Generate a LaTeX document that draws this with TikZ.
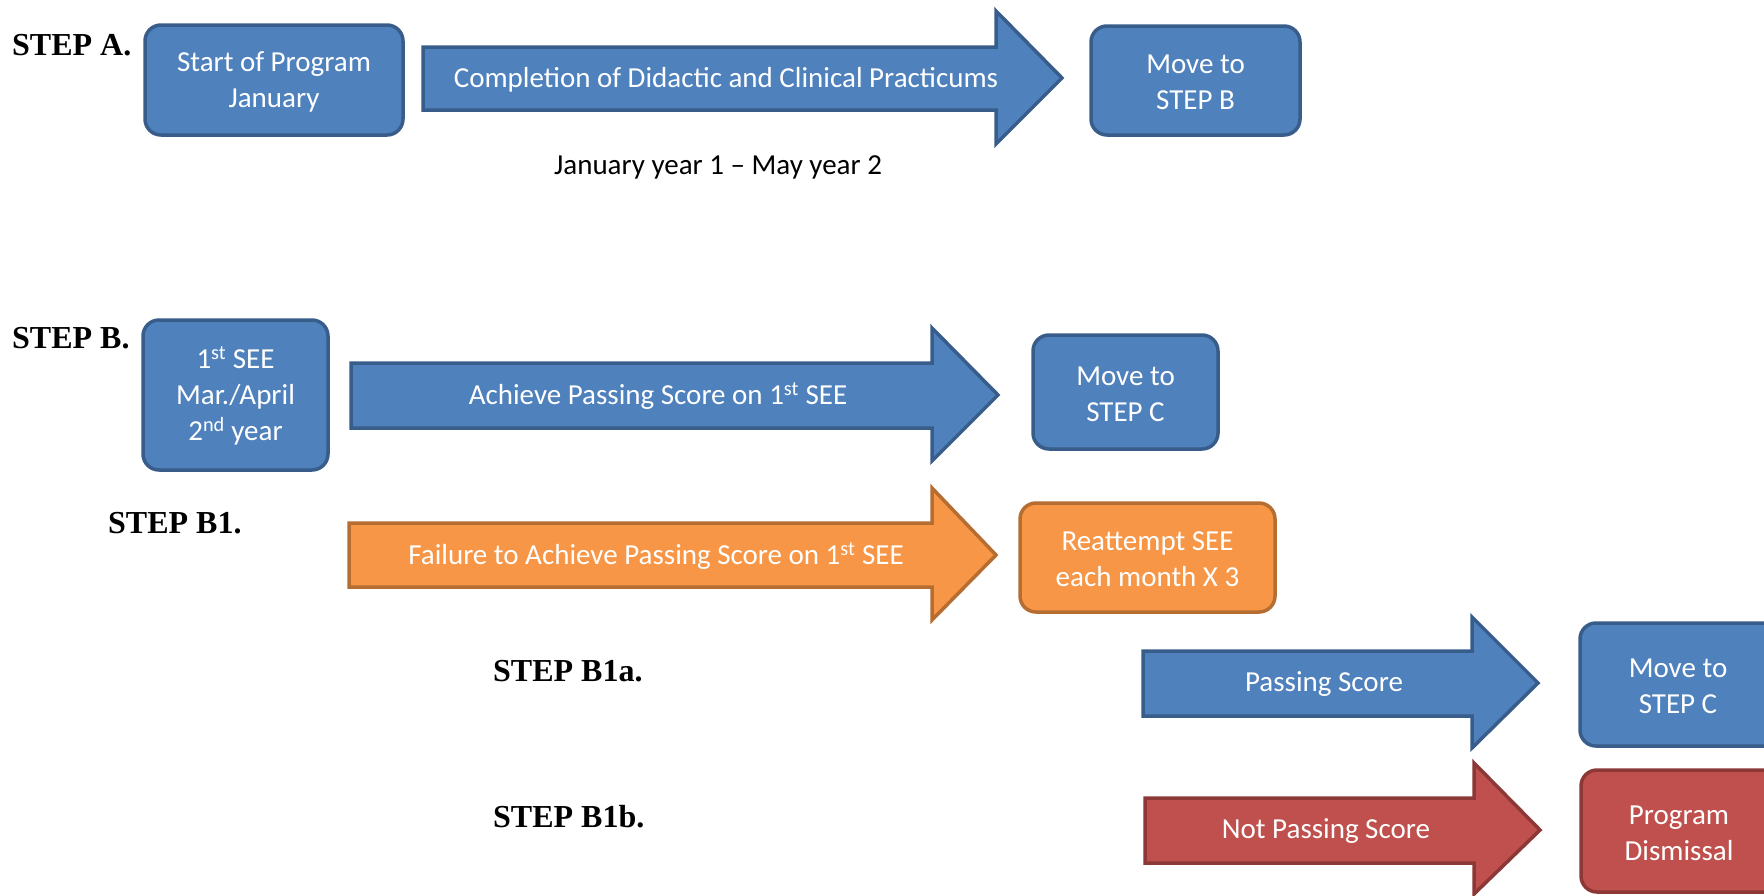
\documentclass[tikz,border=0pt]{standalone}
\usepackage{fontspec}
\setmainfont{Carlito}
\newfontfamily\stepfont{Liberation Serif}
\definecolor{bluefill}{HTML}{4F81BD}
\definecolor{blueline}{HTML}{385D8A}
\definecolor{orangefill}{HTML}{F79646}
\definecolor{orangeline}{HTML}{B66D31}
\definecolor{redfill}{HTML}{C0504D}
\definecolor{redline}{HTML}{8C3836}
\tikzset{
  boxbase/.style={rectangle, rounded corners=16pt, line width=3.5pt, text=white, align=center,
    font=\fontsize{29}{36}\selectfont, inner sep=0pt},
  bluebox/.style={boxbase, fill=bluefill, draw=blueline},
  orangebox/.style={boxbase, fill=orangefill, draw=orangeline},
  redbox/.style={boxbase, fill=redfill, draw=redline},
  bluearrow/.style={fill=bluefill, draw=blueline, line width=3.5pt, line join=miter},
  orangearrow/.style={fill=orangefill, draw=orangeline, line width=3.5pt, line join=miter},
  redarrow/.style={fill=redfill, draw=redline, line width=3.5pt, line join=miter},
  arrowtext/.style={text=white, font=\fontsize{29}{36}\selectfont, inner sep=0pt, anchor=center},
  boxtext/.style={text=white, font=\fontsize{29}{36}\selectfont, inner sep=0pt, align=center, anchor=center},
  steplabel/.style={font=\stepfont\bfseries\fontsize{32}{36}\selectfont, anchor=base west, inner sep=0pt},
}
% block arrow: #1 style, #2 x left, #3 x shaft end, #4 x tip, #5 shaft top, #6 shaft bottom, #7 head top, #8 head bottom, #9 mid y
\newcommand{\blockarrow}[9]{%
  \draw[#1] (#2,#5) -- (#3,#5) -- (#3,#7) -- (#4,#9) -- (#3,#8) -- (#3,#6) -- (#2,#6) -- cycle;}
\begin{document}
\begin{tikzpicture}[x=1pt, y=-1pt]
\useasboundingbox (0,0) rectangle (1764,895);
\fill[white] (0,0) rectangle (1764,895);

% STEP A
\node[steplabel] (stepA) at (12,55) {STEP A.};
\node[bluebox, minimum width=258pt, minimum height=110pt] (startbox) at (274,80) {};
\node[boxtext] (startboxtext) at ([yshift=-2pt]startbox.center) {Start of Program\\January};
\blockarrow{bluearrow}{423}{996}{1062}{47}{110}{11}{144}{78}
\node[arrowtext] (arrA) at (726,80) {Completion of Didactic and Clinical Practicums};
\node[bluebox, minimum width=209pt, minimum height=109pt] (moveB) at (1195.5,80.5) {};
\node[boxtext] (moveBtext) at ([yshift=-2pt]moveB.center) {Move to\\STEP B};
\node[font=\fontsize{29}{36}\selectfont, inner sep=0pt] (dates) at (718,167) {January year 1 – May year 2};

% STEP B
\node[steplabel] (stepB) at (12,348) {STEP B.};
\node[bluebox, minimum width=185pt, minimum height=150pt] (seebox) at (235.5,395) {};
\node[boxtext] (seeboxtext) at ([yshift=-1pt]seebox.center) {1\textsuperscript{st} SEE\\Mar./April\\2\textsuperscript{nd} year};
\blockarrow{bluearrow}{351}{932}{998}{363}{428}{328}{461}{395}
\node[arrowtext] (arrB) at (658,396) {Achieve Passing Score on 1\textsuperscript{st} SEE};
\node[bluebox, minimum width=185pt, minimum height=114pt] (moveC1) at (1125.5,392) {};
\node[boxtext] (moveC1text) at ([yshift=-2pt]moveC1.center) {Move to\\STEP C};

% STEP B1
\node[steplabel] (stepB1) at (108,533) {STEP B1.};
\blockarrow{orangearrow}{349}{932}{996}{523}{587}{488}{620}{555}
\node[arrowtext] (arrB1) at (656,556) {Failure to Achieve Passing Score on 1\textsuperscript{st} SEE};
\node[orangebox, minimum width=255pt, minimum height=109pt] (reattempt) at (1147.5,557.5) {};
\node[boxtext] (reattempttext) at ([yshift=-2pt]reattempt.center) {Reattempt SEE\\each month X 3};

% STEP B1a
\node[steplabel] (stepB1a) at (493,681) {STEP B1a.};
\blockarrow{bluearrow}{1143}{1472}{1538}{651}{716}{617}{748}{683}
\node[arrowtext] (arrB1a) at (1324,684) {Passing Score};
\node[bluebox, minimum width=200pt, minimum height=123pt] (moveC2) at (1680,684.5) {};
\node[boxtext] (moveC2text) at ([xshift=-2pt,yshift=-2pt]moveC2.center) {Move to\\STEP C};

% STEP B1b
\node[steplabel] (stepB1b) at (493,827) {STEP B1b.};
\blockarrow{redarrow}{1145}{1474}{1540}{798}{863}{763}{894}{830}
\node[arrowtext] (arrB1b) at (1326,831) {Not Passing Score};
\node[redbox, minimum width=200pt, minimum height=122pt] (dismissal) at (1681,831) {};
\node[boxtext] (dismissaltext) at ([xshift=-2pt,yshift=-2pt]dismissal.center) {Program\\Dismissal};
\end{tikzpicture}
\end{document}
